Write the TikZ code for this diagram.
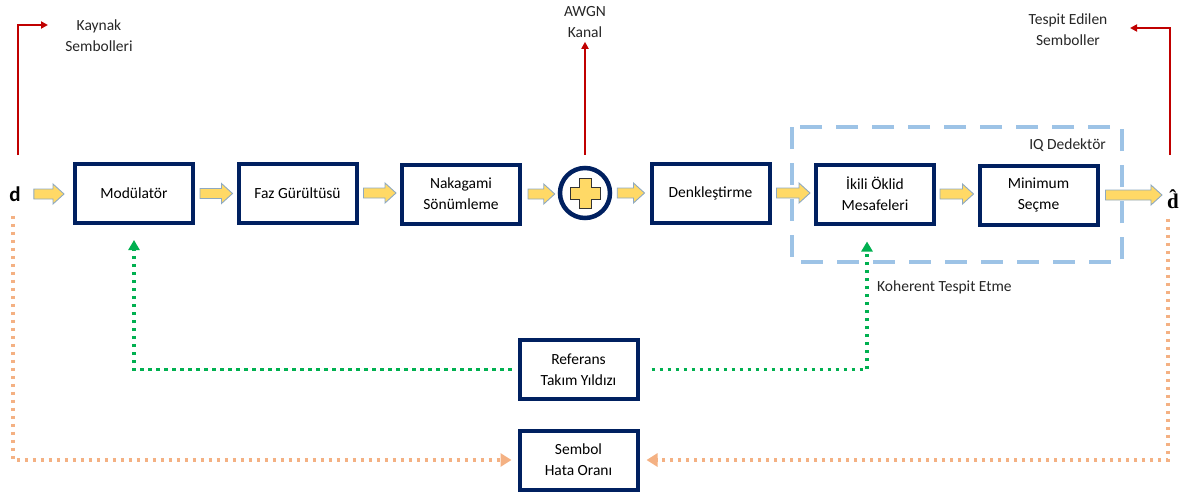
\documentclass[tikz,border=0pt]{standalone}
\usepackage{fontspec}
\setmainfont{Carlito}
\newfontfamily\hatserif{Liberation Serif}
\usetikzlibrary{arrows.meta,calc}
\definecolor{navy}{HTML}{002060}
\definecolor{sigred}{HTML}{C00000}
\definecolor{goldfill}{HTML}{FFD966}
\definecolor{goldline}{HTML}{8EA9C1}
\definecolor{refgreen}{HTML}{00B050}
\definecolor{sergold}{HTML}{F4B183}
\definecolor{iqblue}{HTML}{9DC3E6}
\tikzset{
  blk/.style={draw=navy, line width=4pt, fill=white, minimum width=118pt,
    minimum height=59pt, align=center, inner sep=0pt},
  lbl/.style={align=center, inner sep=0pt, text=black!85},
  redarr/.style={draw=sigred, line width=2pt, -{Triangle[width=7pt,length=7pt]}},
  yarr/.style={fill=goldfill, draw=goldline, line width=0.9pt, line join=miter},
  grnarr/.style={draw=refgreen, line width=3.5pt, dash pattern=on 3.5pt off 4.5pt,
    -{Triangle[width=11pt,length=10pt]}},
  orarr/.style={draw=sergold, line width=3.5pt, dash pattern=on 3.5pt off 4.5pt,
    -{Triangle[width=13pt,length=11pt]}},
}
% yellow block arrow between two named nodes (gap after source, gap before target)
\newcommand\yarrow[4]{%
  \filldraw[yarr] let \p1=($(#1.east)+(#3,0)$), \p2=($(#2.west)-(#4,0)$) in
    (\x1,{\y1+5pt}) -- ({\x2-11pt},{\y1+5pt}) -- ({\x2-11pt},{\y1+10pt})
    -- (\x2,\y1) -- ({\x2-11pt},{\y1-10pt}) -- ({\x2-11pt},{\y1-5pt})
    -- (\x1,{\y1-5pt}) -- cycle;}
\begin{document}
\begin{tikzpicture}[x=1pt,y=-1pt,font=\fontsize{15.5}{21}\selectfont]
\useasboundingbox (0,0) rectangle (1191,495);

% IQ detector frame
\draw[iqblue, line width=4.5pt, dash pattern=on 22pt off 14pt] (792,127) rectangle (1122,262);
\node[lbl, anchor=east] (iq) at (1106,145) {IQ Dedektör};

% symbols in and out
\node[inner sep=0pt, font=\fontsize{21}{22}\selectfont\bfseries] (d) at (15,194) {d};
\node[inner sep=0pt, font=\fontsize{21}{22}\selectfont\hatserif\bfseries] (dh) at (1173,199) {\^{d}};

% processing blocks
\node[blk] (mod) at (134,193.5) {Modülatör};
\node[blk] (faz) at (297.5,193) {Faz Gürültüsü};
\node[blk] (nak) at (461,194) {Nakagami\\Sönümleme};
\node[draw=navy, line width=4.5pt, circle, minimum size=50pt, inner sep=0pt, fill=white] (sum) at (585,193) {};
\node[blk] (den) at (710.5,193) {Denkleştirme};
\node[blk] (iki) at (875,194) {İkili Öklid\\Mesafeleri};
\node[blk] (min) at (1038.5,195) {Minimum\\Seçme};
\node[blk] (ref) at (578.5,369.5) {Referans\\Takım Yıldızı};
\node[blk] (ser) at (578.5,460) {Sembol\\Hata Oranı};

% plus sign of the adder
\filldraw[fill=goldfill, draw=black!80, line width=0.7pt]
  ($(sum)+(-6,-15)$) -- ($(sum)+(6,-15)$) -- ($(sum)+(6,-6)$) -- ($(sum)+(15,-6)$)
  -- ($(sum)+(15,6)$) -- ($(sum)+(6,6)$) -- ($(sum)+(6,15)$) -- ($(sum)+(-6,15)$)
  -- ($(sum)+(-6,6)$) -- ($(sum)+(-15,6)$) -- ($(sum)+(-15,-6)$) -- ($(sum)+(-6,-6)$) -- cycle;

% main signal chain
\yarrow{d}{mod}{13}{9}
\yarrow{mod}{faz}{5}{4}
\yarrow{faz}{nak}{5}{4}
\yarrow{nak}{sum}{6}{3}
\yarrow{sum}{den}{5}{5}
\yarrow{den}{iki}{5}{4}
\yarrow{iki}{min}{4}{4}
\yarrow{min}{dh}{6}{5}

% labels of the red taps
\node[lbl] (kay) at (99,35.5) {Kaynak\\Sembolleri};
\node[lbl] (awgn) at (585,22) {AWGN\\Kanal};
\node[lbl] (tes) at (1068,30) {Tespit Edilen\\Semboller};
\coordinate (kayin) at (48,25);
\coordinate (tesin) at (1130,28);

\draw[redarr] (18,155) |- (kayin);
\draw[redarr] ($(sum.north)+(0,-11)$) -- ($(awgn.south)+(0,4)$);
\draw[redarr] (1170,155) |- (tesin);

% reference constellation feeds
\draw[grnarr, shorten <=6pt, shorten >=15pt] (ref.west) -| (mod.south);
\draw[grnarr, shorten <=12pt, shorten >=16pt] (ref.east) -| ($(iki.south)+(-8,0)$);
\node[lbl, anchor=west] (koh) at (877,287) {Koherent Tespit Etme};

% symbol error rate inputs
\draw[orarr, shorten <=14pt, shorten >=6pt] ($(d.south)+(-2,0)$) |- (ser.west);
\draw[orarr, shorten <=10pt, shorten >=7pt] ($(dh.south)+(-5,0)$) |- (ser.east);
\end{tikzpicture}
\end{document}
